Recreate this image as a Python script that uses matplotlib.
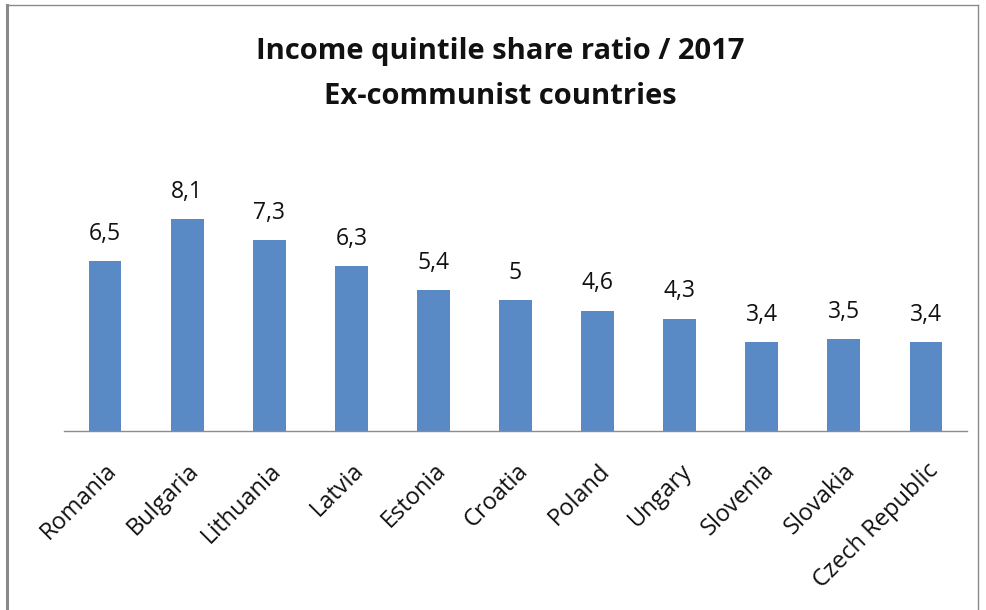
import matplotlib
matplotlib.use("Agg")
import matplotlib.pyplot as plt
from matplotlib.lines import Line2D

countries = ["Romania", "Bulgaria", "Lithuania", "Latvia", "Estonia", "Croatia",
             "Poland", "Ungary", "Slovenia", "Slovakia", "Czech Republic"]
ratios = [6.5, 8.1, 7.3, 6.3, 5.4, 5.0, 4.6, 4.3, 3.4, 3.5, 3.4]
value_labels = ["6,5", "8,1", "7,3", "6,3", "5,4", "5", "4,6", "4,3", "3,4", "3,5", "3,4"]

W, H = 986, 610
fig = plt.figure(figsize=(W / 100, H / 100), dpi=100)
fig.patch.set_facecolor("white")

# chart area frame (open at the bottom)
fig.add_artist(Line2D([7 / W, 7 / W], [0, 1 - 5 / H], color="#8a8a8a", lw=2.2,
                      transform=fig.transFigure))
fig.add_artist(Line2D([7 / W, 978 / W], [1 - 5 / H, 1 - 5 / H], color="#8a8a8a", lw=1.0,
                      transform=fig.transFigure))
fig.add_artist(Line2D([978 / W, 978 / W], [0, 1 - 5 / H], color="#8a8a8a", lw=1.0,
                      transform=fig.transFigure))

# plot area: baseline at y=431 px, 9 units tall
left, right = 64, 967
base = 431
top = base - 9 * 26.15
ax = fig.add_axes([left / W, 1 - base / H, (right - left) / W, (base - top) / H])

x = list(range(len(countries)))
ax.bar(x, ratios, width=0.4, color="#5A8AC6", zorder=2)
ax.set_xlim(-0.5, len(countries) - 0.5)
ax.set_ylim(0, 9)

for xi, v, lab in zip(x, ratios, value_labels):
    ax.annotate(lab, (xi, v), xytext=(0, 11), textcoords="offset points",
                ha="center", va="bottom", fontsize=16.5, family="Open Sans", color="#111111")

for s in ["top", "right", "left"]:
    ax.spines[s].set_visible(False)
ax.spines["bottom"].set_color("#8c8c8c")
ax.spines["bottom"].set_linewidth(1.0)
ax.set_yticks([])
ax.set_xticks(x)
ax.set_xticklabels(countries, rotation=45, ha="right", rotation_mode="anchor",
                   fontsize=17, family="Open Sans", color="#111111")
ax.tick_params(axis="x", length=0, pad=20)

fig.text(500 / W, 1 - 52 / H, "Income quintile share ratio / 2017", ha="center", va="center",
         fontsize=21, fontweight="bold", family="Open Sans", color="#111111")
fig.text(500 / W, 1 - 97 / H, "Ex-communist countries", ha="center", va="center",
         fontsize=21, fontweight="bold", family="Open Sans", color="#111111")

fig.savefig("out.png", dpi=100, facecolor="white")
